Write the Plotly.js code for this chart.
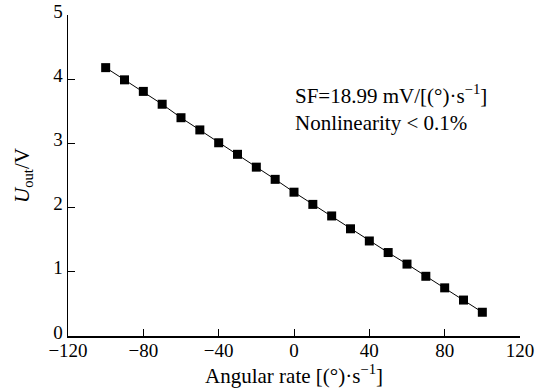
<!DOCTYPE html>
<html>
<head>
<meta charset="utf-8">
<script src="https://cdn.plot.ly/plotly-3.0.1.min.js"></script>
<style>html,body{margin:0;padding:0;background:#fff;}#chart{width:539px;height:388px;}</style>
</head>
<body>
<div id="chart"></div>
<script>
const rates = [-100, -90, -80, -70, -60, -50, -40, -30, -20, -10, 0, 10, 20, 30, 40, 50, 60, 70, 80, 90, 100];
const uout = [4.18, 3.99, 3.81, 3.61, 3.40, 3.21, 3.01, 2.83, 2.63, 2.44, 2.24, 2.05, 1.87, 1.67, 1.48, 1.30, 1.12, 0.93, 0.75, 0.56, 0.37];
const xTicks = [-120, -80, -40, 0, 40, 80, 120];
const yTicks = [0, 1, 2, 3, 4, 5];

const fam = 'Liberation Serif, Times New Roman, serif';
const tickFont = {family: fam, size: 19, color: '#000'};
const titleFont = {family: fam, size: 21, color: '#000'};

Plotly.newPlot('chart', [{
  x: rates, y: uout, type: 'scatter', mode: 'lines+markers',
  line: {color: '#000', width: 1},
  marker: {symbol: 'square', size: 9, color: '#000'},
  showlegend: false
}], {
  width: 539, height: 388,
  margin: {l: 68, r: 19, t: 15, b: 52},
  paper_bgcolor: '#fff', plot_bgcolor: '#fff',
  font: tickFont,
  xaxis: {
    range: [-120, 120], tickvals: xTicks, ticktext: xTicks.map(v => v < 0 ? '\u2212' + Math.abs(v) : String(v)),
    ticks: 'inside', ticklen: 7, tickwidth: 1, tickcolor: '#000', ticklabelstandoff: -3,
    showline: true, linecolor: '#000', linewidth: 1.5, showgrid: false, zeroline: false,
    tickfont: tickFont,
    title: {text: 'Angular rate [(°)·s<sup>\u22121</sup>]', font: titleFont, standoff: 5}
  },
  yaxis: {
    range: [0, 5], tickvals: yTicks,
    ticks: 'inside', ticklen: 7, tickwidth: 1, tickcolor: '#000', ticklabelshift: -4,
    showline: true, linecolor: '#000', linewidth: 1.5, showgrid: false, zeroline: false,
    tickfont: tickFont,
    title: {text: '<i>U</i><sub>out</sub>/V', font: titleFont, standoff: 18}
  },
  annotations: [{
    xref: 'paper', yref: 'paper', x: 0.497, y: 0.80, xanchor: 'left', yanchor: 'top', align: 'left',
    showarrow: false, font: titleFont,
    text: 'SF=18.99 mV/[(°)·s<sup>\u22121</sup>]<br>Nonlinearity &lt; 0.1%'
  }]
}, {displayModeBar: false, staticPlot: true});
</script>
</body>
</html>
